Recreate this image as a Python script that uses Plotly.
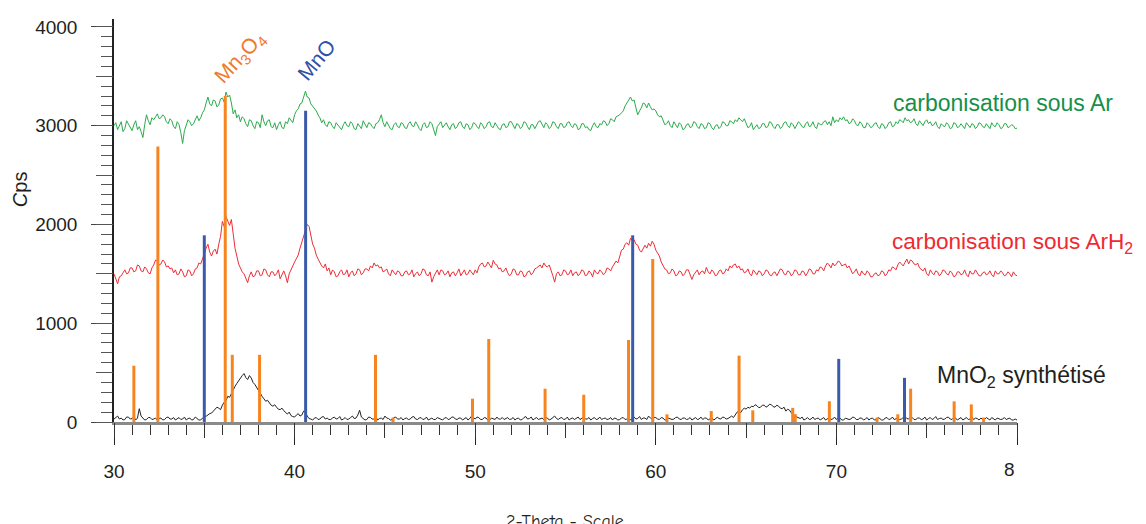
import plotly.graph_objects as go

# 2-theta grid (0.1 deg step, 30 -> 80)
two_theta = [round(30 + 0.1 * i, 1) for i in range(501)]

green_ar = [
    3000, 3030, 2960, 3010, 3040, 2940, 2970, 3050, 3020, 2980, 2950, 3010, 3050, 2960, 2990, 2940, 2880, 3010, 3110, 3050,
    3010, 3080, 3060, 3090, 3120, 3070, 3080, 3110, 3090, 3040, 3020, 3070, 3050, 2990, 2970, 3040, 3010, 2930, 2820, 2950,
    3000, 3060, 3040, 3000, 3020, 3070, 3100, 3050, 3080, 3130, 3160, 3230, 3290, 3220, 3200, 3260, 3250, 3190, 3210, 3270,
    3280, 3240, 3340, 3290, 3310, 3230, 3120, 3160, 3080, 3110, 3040, 3090, 3070, 3020, 2990, 3060, 3050, 3000, 2970, 3040,
    3030, 2980, 3110, 3040, 3000, 3050, 3060, 2990, 2980, 3030, 2960, 3010, 3040, 2980, 2970, 3040, 3020, 3080, 3060, 3030,
    3110, 3150, 3170, 3220, 3230, 3300, 3350, 3290, 3280, 3220, 3200, 3170, 3150, 3110, 3080, 3030, 3060, 3010, 2990, 3040,
    3030, 2990, 2970, 3030, 3010, 2980, 2960, 3010, 3040, 3000, 2990, 3040, 3020, 2970, 2960, 3020, 3000, 2970, 3050, 3010,
    2980, 3030, 3020, 2990, 2970, 3020, 3030, 3060, 3110, 3030, 2990, 3040, 3010, 2970, 2960, 3010, 3030, 2990, 2980, 3030,
    3020, 2980, 2970, 3020, 3040, 3000, 2990, 3040, 3010, 2970, 2950, 3010, 3030, 2980, 2990, 3040, 3020, 2960, 2900, 2990,
    3010, 3040, 2980, 3000, 3030, 2990, 2960, 3010, 3020, 2970, 2990, 3030, 3040, 2990, 2970, 3020, 3010, 2960, 2980, 3030,
    3020, 2990, 2970, 3030, 3010, 2970, 2990, 3030, 3040, 2990, 2980, 3030, 3000, 2970, 2960, 3010, 3020, 2980, 2990, 3040,
    3040, 3000, 2970, 3020, 3010, 2970, 2990, 3040, 3030, 2990, 2960, 3010, 3010, 2970, 3000, 3040, 3050, 3010, 2980, 3030,
    3010, 2970, 2990, 3040, 3030, 2990, 2970, 3020, 3020, 2980, 2990, 3030, 3040, 3000, 2980, 3020, 3010, 2960, 2970, 3020,
    3020, 2980, 2990, 2960, 2950, 3000, 3030, 2990, 2980, 3020, 3010, 3050, 3040, 3000, 3020, 3070, 3060, 3040, 3090, 3100,
    3110, 3130, 3150, 3200, 3230, 3270, 3290, 3250, 3260, 3180, 3110, 3150, 3180, 3230, 3220, 3180, 3230, 3190, 3160, 3170,
    3150, 3110, 3090, 3100, 3060, 3010, 3020, 3050, 3000, 2980, 3040, 3010, 2980, 3030, 3010, 2960, 2970, 3010, 3020, 2980,
    2990, 3040, 3030, 2990, 2970, 3020, 3010, 2970, 2980, 3030, 3020, 2980, 2960, 3000, 3010, 2970, 2990, 3040, 3030, 3000,
    3000, 3050, 3040, 3020, 3060, 3040, 3080, 3060, 3040, 3070, 3020, 2980, 2990, 3030, 2960, 2990, 3010, 2970, 2980, 3020,
    3020, 2980, 2990, 3040, 3030, 2990, 2970, 3010, 3010, 2970, 2990, 3030, 3040, 3000, 2980, 3030, 3010, 2970, 3000, 3040,
    3020, 2990, 2980, 3020, 3040, 2990, 3000, 3040, 2990, 2970, 3030, 3010, 3010, 3040, 3050, 3010, 3040, 3000, 3090, 3030,
    3060, 3040, 3080, 3060, 3090, 3050, 3060, 3020, 3030, 3070, 3050, 3010, 3000, 3040, 3020, 2980, 2980, 3030, 3010, 2980,
    2990, 3020, 3030, 2990, 2970, 3020, 3010, 2970, 2990, 3030, 3040, 2990, 3000, 3040, 3020, 3060, 3050, 3030, 3080, 3050,
    3060, 3030, 3040, 3070, 3020, 3000, 3050, 3030, 3000, 3040, 3060, 3020, 3040, 3000, 3010, 3040, 2990, 2970, 3020, 3000,
    2990, 3030, 3010, 2970, 2980, 3030, 3020, 2980, 2990, 3020, 3000, 2970, 3030, 3010, 2980, 3020, 3010, 2970, 2990, 3030,
    3020, 2990, 2980, 3020, 3000, 2970, 3030, 3000, 2990, 3030, 3010, 2970, 2980, 3020, 3020, 2980, 2990, 3010, 3000, 2970,
    2975,
]

red_arh2 = [
    1500, 1440, 1400, 1470, 1480, 1510, 1540, 1500, 1510, 1560, 1560, 1520, 1530, 1590, 1580, 1530, 1520, 1570, 1550, 1510,
    1500, 1560, 1590, 1640, 1630, 1590, 1600, 1640, 1620, 1570, 1580, 1550, 1560, 1510, 1540, 1490, 1500, 1550, 1520, 1470,
    1480, 1540, 1530, 1480, 1500, 1550, 1560, 1610, 1600, 1650, 1714, 1760, 1800, 1720, 1680, 1730, 1750, 1700, 1800, 1880,
    2030, 1980, 2080, 2040, 1990, 2050, 1870, 1760, 1680, 1600, 1560, 1520, 1500, 1460, 1410, 1480, 1520, 1470, 1480, 1530,
    1530, 1480, 1490, 1550, 1540, 1490, 1470, 1520, 1520, 1480, 1500, 1540, 1450, 1490, 1530, 1480, 1410, 1500, 1550, 1580,
    1620, 1660, 1690, 1760, 1820, 1900, 1940, 2000, 1980, 1900, 1800, 1760, 1690, 1650, 1610, 1580, 1560, 1600, 1530, 1560,
    1490, 1540, 1520, 1470, 1480, 1520, 1540, 1490, 1500, 1540, 1470, 1510, 1530, 1480, 1500, 1550, 1540, 1490, 1510, 1550,
    1550, 1530, 1580, 1560, 1610, 1580, 1590, 1560, 1570, 1520, 1530, 1550, 1500, 1480, 1540, 1510, 1490, 1530, 1520, 1480,
    1480, 1520, 1530, 1490, 1500, 1540, 1470, 1500, 1520, 1480, 1500, 1550, 1540, 1490, 1480, 1520, 1416, 1470, 1510, 1540,
    1490, 1540, 1530, 1490, 1500, 1530, 1470, 1510, 1520, 1480, 1510, 1550, 1480, 1510, 1540, 1490, 1500, 1540, 1520, 1490,
    1540, 1510, 1570, 1600, 1610, 1570, 1580, 1620, 1590, 1560, 1637, 1600, 1590, 1550, 1560, 1520, 1530, 1560, 1510, 1480,
    1500, 1550, 1540, 1490, 1490, 1530, 1520, 1470, 1480, 1520, 1530, 1490, 1510, 1550, 1560, 1580, 1590, 1560, 1610, 1580,
    1570, 1590, 1540, 1480, 1416, 1500, 1520, 1480, 1490, 1540, 1530, 1490, 1500, 1540, 1480, 1510, 1520, 1480, 1500, 1540,
    1530, 1480, 1490, 1530, 1510, 1470, 1540, 1510, 1500, 1540, 1520, 1490, 1510, 1560, 1550, 1530, 1570, 1600, 1630, 1610,
    1690, 1740, 1750, 1800, 1815, 1790, 1860, 1840, 1845, 1800, 1790, 1740, 1720, 1760, 1790, 1760, 1810, 1780, 1830, 1800,
    1740, 1710, 1680, 1620, 1580, 1550, 1540, 1500, 1510, 1550, 1530, 1480, 1490, 1530, 1520, 1480, 1500, 1540, 1540, 1490,
    1443, 1490, 1510, 1540, 1490, 1520, 1530, 1500, 1565, 1520, 1500, 1540, 1520, 1480, 1490, 1530, 1540, 1500, 1510, 1550,
    1530, 1580, 1560, 1590, 1600, 1560, 1580, 1540, 1550, 1510, 1520, 1550, 1500, 1480, 1540, 1510, 1490, 1530, 1520, 1480,
    1500, 1540, 1530, 1490, 1480, 1510, 1520, 1480, 1510, 1550, 1540, 1500, 1490, 1530, 1520, 1480, 1500, 1540, 1530, 1490,
    1490, 1530, 1520, 1480, 1510, 1550, 1540, 1500, 1500, 1540, 1530, 1570, 1560, 1530, 1580, 1610, 1590, 1560, 1610, 1580,
    1600, 1630, 1617, 1580, 1590, 1600, 1560, 1580, 1540, 1500, 1520, 1550, 1500, 1480, 1530, 1500, 1490, 1530, 1510, 1470,
    1470, 1500, 1510, 1480, 1490, 1530, 1520, 1480, 1500, 1540, 1530, 1570, 1560, 1540, 1590, 1620, 1600, 1580, 1617, 1650,
    1600, 1640, 1630, 1600, 1590, 1610, 1560, 1540, 1530, 1560, 1500, 1480, 1540, 1510, 1490, 1530, 1520, 1480, 1500, 1540,
    1530, 1500, 1490, 1530, 1510, 1470, 1480, 1520, 1520, 1490, 1500, 1540, 1490, 1470, 1530, 1500, 1500, 1540, 1510, 1480,
    1480, 1510, 1520, 1490, 1500, 1530, 1490, 1470, 1530, 1500, 1500, 1530, 1510, 1480, 1490, 1520, 1500, 1470, 1520, 1490,
    1480,
]

black_mno2 = [
    30, 45, 60, 30, 40, 20, 25, 50, 50, 30, 35, 55, 20, 40, 135, 60, 40, 20, 25, 45,
    45, 25, 30, 40, 20, 35, 40, 20, 25, 45, 50, 30, 30, 45, 20, 35, 45, 25, 30, 50,
    20, 35, 40, 20, 25, 50, 35, 20, 20, 40, 45, 60, 70, 85, 90, 110, 120, 150, 140, 125,
    170, 200, 215, 260, 250, 290, 320, 360, 390, 420, 450, 470, 490, 450, 430, 470, 445, 400, 380, 350,
    310, 280, 260, 235, 210, 220, 195, 170, 160, 175, 150, 130, 125, 140, 115, 95, 80, 100, 65, 55,
    50, 70, 85, 60, 70, 110, 100, 60, 35, 30, 20, 40, 45, 25, 30, 50, 55, 30, 40, 25,
    25, 40, 50, 30, 35, 55, 20, 30, 45, 25, 30, 45, 60, 35, 40, 70, 119, 50, 30, 20,
    25, 50, 45, 30, 30, 50, 20, 35, 40, 25, 60, 40, 35, 20, 25, 45, 50, 30, 30, 45,
    20, 35, 40, 25, 30, 50, 55, 30, 25, 40, 45, 25, 30, 50, 20, 30, 40, 25, 25, 45,
    35, 25, 20, 40, 45, 25, 30, 50, 50, 30, 25, 40, 40, 20, 30, 45, 20, 35, 60, 40,
    30, 50, 45, 25, 25, 45, 40, 20, 20, 40, 35, 25, 50, 30, 30, 45, 25, 35, 45, 25,
    30, 45, 20, 35, 40, 20, 25, 45, 55, 30, 35, 50, 20, 35, 45, 25, 30, 40, 25, 45,
    40, 20, 30, 45, 60, 35, 25, 40, 45, 25, 30, 50, 20, 35, 40, 25, 35, 50, 25, 40,
    50, 30, 30, 45, 20, 35, 45, 25, 30, 50, 25, 35, 40, 25, 30, 45, 20, 40, 35, 20,
    25, 40, 45, 25, 30, 45, 20, 35, 50, 30, 35, 55, 25, 40, 40, 25, 60, 40, 30, 45,
    45, 30, 25, 45, 40, 20, 20, 40, 35, 25, 30, 45, 50, 30, 25, 40, 40, 25, 30, 45,
    20, 35, 45, 25, 30, 50, 25, 40, 40, 20, 35, 45, 20, 30, 50, 35, 30, 50, 45, 30,
    35, 50, 60, 45, 80, 100, 110, 95, 125, 140, 130, 150, 140, 160, 155, 175, 165, 145, 150, 170,
    170, 150, 160, 180, 175, 155, 150, 170, 160, 140, 135, 150, 110, 130, 120, 90, 70, 60, 50, 40,
    35, 50, 20, 30, 45, 25, 30, 50, 25, 35, 40, 20, 30, 45, 20, 35, 45, 25, 30, 50,
    25, 45, 40, 20, 20, 40, 35, 25, 30, 50, 45, 25, 25, 40, 40, 20, 30, 45, 20, 35,
    40, 20, 25, 45, 35, 20, 20, 40, 45, 25, 30, 50, 25, 35, 40, 25, 30, 45, 55, 35,
    30, 50, 45, 25, 25, 40, 40, 25, 30, 50, 20, 35, 45, 25, 35, 55, 25, 35, 40, 25,
    30, 45, 50, 30, 25, 45, 40, 20, 30, 45, 20, 35, 45, 25, 30, 50, 25, 40, 35, 20,
    40, 25, 25, 45, 30, 20, 45, 30, 20, 40, 35, 25, 30, 45, 25, 35, 40, 20, 20, 30,
    20,
]

# Reference patterns (stick lines)
mn3o4_pos = [31.1, 32.43, 36.16, 36.55, 38.06, 44.48, 45.45, 49.85, 50.75, 53.87,
             56.01, 58.49, 59.83, 60.62, 63.07, 64.61, 65.37, 67.58, 67.72, 69.61,
             72.25, 73.4, 74.11, 76.52, 77.47, 78.15]
mn3o4_int = [570, 2790, 3300, 680, 680, 680, 45, 236, 840, 337,
             276, 830, 1650, 78, 111, 672, 118, 143, 80, 210,
             45, 78, 337, 209, 178, 45]
mno_pos = [35.0, 40.61, 58.72, 70.13, 73.77]
mno_int = [1890, 3150, 1890, 639, 447]

x_ticks = [30, 40, 50, 60, 70, 80]
x_ticktext = ["30", "40", "50", "60", "70", ""]
y_ticks = [0, 1000, 2000, 3000, 4000]

ORANGE = "#F7841F"
BLUE = "#3A5BAA"
GREEN_LINE = "#28AC4A"
RED_LINE = "#EE2D36"
FONT = "Liberation Sans, Arial, sans-serif"


def sticks(pos, hts):
    xs, ys = [], []
    for p, h in zip(pos, hts):
        xs += [p, p, None]
        ys += [0, h, None]
    return xs, ys


def xs_for(series):
    return two_theta[:len(series)]


fig = go.Figure()
fig.add_trace(go.Scatter(x=xs_for(green_ar), y=green_ar, mode="lines",
                         line=dict(color=GREEN_LINE, width=1)))
fig.add_trace(go.Scatter(x=xs_for(red_arh2), y=red_arh2, mode="lines",
                         line=dict(color=RED_LINE, width=1)))
fig.add_trace(go.Scatter(x=xs_for(black_mno2), y=black_mno2, mode="lines",
                         line=dict(color="#222222", width=1)))
sx, sy = sticks(mn3o4_pos, mn3o4_int)
fig.add_trace(go.Scatter(x=sx, y=sy, mode="lines", line=dict(color=ORANGE, width=3)))
bx, by = sticks(mno_pos, mno_int)
fig.add_trace(go.Scatter(x=bx, y=by, mode="lines", line=dict(color=BLUE, width=3)))
# dummy trace for the overlay axes (medium-length ticks)
fig.add_trace(go.Scatter(x=[None], y=[None], xaxis="x2", yaxis="y2", mode="lines"))

XR = [30, 80]
YR = [0, 4080]

fig.update_layout(
    width=1146, height=524,
    margin=dict(l=106, r=137, t=9, b=110),
    paper_bgcolor="white", plot_bgcolor="white",
    showlegend=False,
    font=dict(family=FONT, size=19, color="#231F20"),
    xaxis=dict(range=XR, tickvals=x_ticks, ticktext=x_ticktext,
               ticks="outside", ticklen=20, tickwidth=1.3, tickcolor="#222",
               showline=True, linecolor="#8a8a8a", linewidth=2.5,
               showgrid=False, zeroline=False, ticklabelstandoff=10,
               tickfont=dict(size=19, color="#231F20"),
               minor=dict(dtick=1, ticks="outside", ticklen=10, tickwidth=1.2,
                          tickcolor="#333", showgrid=False)),
    xaxis2=dict(range=XR, overlaying="x", anchor="y", side="bottom", dtick=5, tick0=30,
                ticks="outside", ticklen=15, tickwidth=1.2, tickcolor="#333",
                showticklabels=False, showgrid=False, zeroline=False, showline=False),
    yaxis=dict(range=YR, tickvals=y_ticks, ticks="outside", ticklen=21,
               tickwidth=1.3, tickcolor="#444",
               showline=True, linecolor="#222", linewidth=1.5,
               showgrid=False, zeroline=False, ticklabelstandoff=10,
               tickfont=dict(size=19, color="#231F20"),
               minor=dict(dtick=100, ticks="outside", ticklen=11, tickwidth=1.2,
                          tickcolor="#555", showgrid=False)),
    yaxis2=dict(range=YR, overlaying="y", anchor="x", side="left", dtick=500, tick0=0,
                ticks="outside", ticklen=17, tickwidth=1.2, tickcolor="#555",
                showticklabels=False, showgrid=False, zeroline=False, showline=False),
)

ann = []
ann.append(dict(text="Mn<sub>3</sub>O<sub>4</sub>", x=36.96, y=3690, xref="x", yref="y",
                showarrow=False, textangle=-47, font=dict(color="#EE7A2E", size=21)))
ann.append(dict(text="MnO", x=41.2, y=3675, xref="x", yref="y",
                showarrow=False, textangle=-50, font=dict(color="#2F50A5", size=21)))
ann.append(dict(text="carbonisation sous Ar", x=0.8605, y=0.7926, xref="paper", yref="paper",
                xanchor="left", yanchor="middle", showarrow=False,
                font=dict(color="#17904A", size=23)))
ann.append(dict(text="carbonisation sous ArH<sub>2</sub>", x=0.8595, y=0.445, xref="paper",
                yref="paper", xanchor="left", yanchor="middle", showarrow=False,
                font=dict(color="#EE2A33", size=22.6)))
ann.append(dict(text="MnO<sub>2</sub> synthétisé", x=0.9095, y=0.113, xref="paper",
                yref="paper", xanchor="left", yanchor="middle", showarrow=False,
                font=dict(color="#231F20", size=23)))
ann.append(dict(text="<i>C</i>ps", x=-0.104, y=0.578, xref="paper", yref="paper",
                xanchor="center", yanchor="middle",
                textangle=-90, showarrow=False, font=dict(size=20, color="#231F20")))
ann.append(dict(text="8", x=1.0, y=-0.1185, xref="paper", yref="paper",
                xanchor="right", yanchor="middle", showarrow=False,
                font=dict(size=19, color="#231F20")))
ann.append(dict(text="2-Theta - Scale", x=0.4994, y=-0.217, xref="paper", yref="paper",
                xanchor="center", yanchor="top", showarrow=False,
                font=dict(family="Comic Sans MS, Comic Neue, DejaVu Sans", size=18,
                          color="#231F20")))
fig.update_layout(annotations=ann)

fig.write_html("out.html")
